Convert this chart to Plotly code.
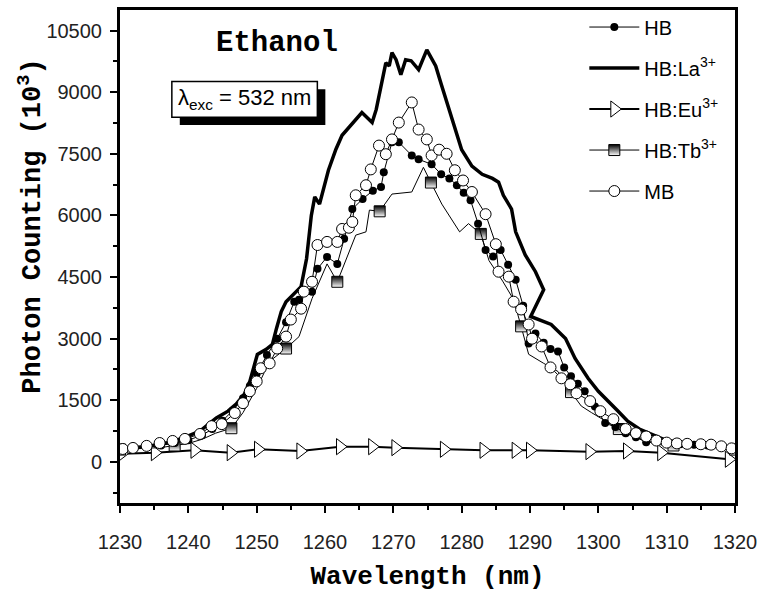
import plotly.graph_objects as go

# ---- data (wavelength nm, photon counting x10^3) ----
hb = [(1230.5, 300), (1232, 320), (1234, 360), (1236, 400), (1238, 460), (1240, 530),
      (1242, 650), (1243.5, 800), (1245, 1000), (1246.5, 1250), (1248, 1550), (1249, 1850),
      (1250, 2150), (1251.5, 2600), (1253, 3000), (1254.3, 3400), (1255.5, 3900),
      (1256.2, 3950), (1256.7, 4190), (1258.1, 4145), (1258.9, 4700), (1260.3, 4990),
      (1261.8, 4820), (1262.8, 5430), (1264, 6155), (1265.5, 6400), (1267, 6600),
      (1268.2, 6690), (1268.6, 7050), (1269.8, 7780), (1270.8, 7780), (1272.7, 7460),
      (1273.7, 7365), (1275.6, 7245), (1277, 7000), (1278.2, 6900), (1279.3, 6735),
      (1280.3, 6550), (1281.3, 6370), (1282.4, 5800), (1283.5, 5160), (1284.6, 5000),
      (1285.7, 5160), (1286.8, 4800), (1287.9, 4435), (1289, 3800), (1289.8, 2880),
      (1290.8, 3125), (1292, 2900), (1293, 2750), (1294.1, 2690), (1295, 2300),
      (1296, 2085), (1297, 1900), (1298, 1720), (1299.5, 1350), (1301, 945),
      (1302.5, 850), (1304, 700), (1305.5, 600), (1307, 480), (1308.5, 500), (1310, 450),
      (1312, 430), (1314, 420), (1316, 400), (1318, 370), (1320, 330)]

hb_la = [(1230.3, 315), (1231.9, 340), (1234.4, 390), (1236.9, 460), (1239.2, 580),
         (1241.7, 750), (1244.1, 1070), (1245.8, 1235), (1247, 1405), (1248.2, 1650),
         (1249, 1960), (1249.7, 2375), (1250.1, 2615), (1251.4, 2740), (1252.3, 2860),
         (1252.9, 3250), (1253.6, 3660), (1254.3, 3900), (1255.8, 4145), (1256.5, 4265),
         (1257.3, 4945), (1258, 6000), (1258.5, 6450), (1259.2, 6275), (1260.5, 7100),
         (1261.6, 7610), (1262.5, 7950), (1264.5, 8335), (1265.4, 8505), (1266.9, 8260),
         (1267.5, 8580), (1268.9, 9715), (1269.4, 9640), (1269.8, 9960), (1270.4, 9790),
         (1271.1, 9425), (1271.8, 9790), (1272.6, 9765), (1273.7, 9547), (1274.9, 10030),
         (1276.2, 9640), (1277, 9200), (1278.5, 8400), (1280, 7600), (1281.5, 7200),
         (1283, 7000), (1284.5, 6900), (1285.4, 6810), (1286.1, 6490), (1287.3, 6155),
         (1287.9, 5600), (1289.3, 5040), (1290.8, 4630), (1292, 4190), (1290.1, 3540),
         (1293.1, 3345), (1295.2, 3005), (1296.6, 2520), (1298.5, 2035), (1300, 1720),
         (1302.9, 1235), (1304.3, 990), (1306, 800), (1308, 650), (1310, 520),
         (1312, 460), (1314, 420), (1316, 400), (1318, 380), (1320, 330)]

hb_eu = [(1230.2, 200), (1235.1, 225), (1240.9, 283), (1246.2, 225), (1250.2, 307),
         (1256.4, 266), (1262.2, 371), (1266.9, 371), (1270.3, 347), (1277.4, 307),
         (1283.2, 283), (1287.9, 283), (1290.0, 283), (1298.7, 250), (1304.2, 266),
         (1309.2, 225), (1319.1, 65)]

hb_tb = [(1230, 300), (1232, 320), (1234, 330), (1236, 350), (1238, 400), (1240, 450),
         (1242, 550), (1244, 700), (1246.3, 820), (1248, 1200), (1250, 1790),
         (1251.9, 2450), (1254.3, 2760), (1256.2, 3050), (1258.1, 3975), (1260.3, 4820),
         (1261.8, 4385), (1264.5, 5520), (1266, 5600), (1266.5, 6130), (1268, 6100),
         (1269.8, 6520), (1272.7, 6570), (1274.4, 7170), (1275.5, 6800), (1277.1, 6275),
         (1279.7, 5600), (1281, 5800), (1282.8, 5550), (1284, 4900), (1286, 4400),
         (1287.6, 3950), (1288.7, 3300), (1289.8, 2620), (1292, 2400), (1294.1, 2200),
         (1296, 1700), (1297.5, 1360), (1299, 1200), (1301, 1000), (1303, 800),
         (1305, 650), (1307, 500), (1309, 420), (1311, 400), (1313, 380), (1315, 370),
         (1317, 350), (1320, 300)]

mb = [(1230.4, 315), (1231.9, 340), (1233.9, 390), (1235.8, 460), (1237.7, 510),
      (1239.5, 560), (1241.7, 680), (1243.4, 870), (1244.9, 920), (1246.8, 1190),
      (1248.0, 1430), (1249.0, 1720), (1250.0, 1960), (1250.6, 2280), (1251.9, 2400),
      (1253.0, 2760), (1254.3, 3050), (1255.0, 3465), (1256.5, 3730), (1256.9, 4145),
      (1258.1, 4385), (1258.9, 5280), (1260.3, 5355), (1261.8, 5355), (1262.5, 5670),
      (1263.5, 5700), (1264.0, 5840), (1264.5, 6490), (1266.0, 6735), (1266.7, 7120),
      (1267.9, 7700), (1268.9, 7490), (1269.8, 7850), (1270.8, 8260), (1272.7, 8750),
      (1273.7, 8090), (1274.9, 7850), (1275.6, 7460), (1276.7, 7600), (1277.8, 7500),
      (1279.0, 7100), (1280.2, 6850), (1281.5, 6570), (1283.5, 6030), (1285.0, 5300),
      (1285.4, 4630), (1286.9, 4510), (1287.6, 3900), (1288.7, 3710), (1289.8, 3345),
      (1290.3, 3000), (1291.7, 2810), (1293.0, 2300), (1294.6, 2035), (1295.9, 1890),
      (1296.8, 1670), (1298.8, 1480), (1300.3, 1235), (1302.2, 1040), (1304.0, 800),
      (1305.5, 700), (1307.0, 620), (1308.5, 520), (1310.0, 470), (1311.5, 450),
      (1313.0, 440), (1315.0, 430), (1316.5, 420), (1318.0, 380), (1319.5, 330)]

y_ticks = [0, 1500, 3000, 4500, 6000, 7500, 9000, 10500]
y_tick_labels = ["0", "1500", "3000", "4500", "6000", "7500", "9000", "10500"]
x_ticks = [1230, 1240, 1250, 1260, 1270, 1280, 1290, 1300, 1310, 1320]


def xs(d):
    return [p[0] for p in d]


def ys(d):
    return [p[1] for p in d]


SANS = "Liberation Sans, Arial, sans-serif"
MONO = "Liberation Mono, Courier New, monospace"

fig = go.Figure()

fig.add_trace(go.Scatter(
    x=xs(hb_la), y=ys(hb_la), mode="lines", name="HB:La<sup>3+</sup>",
    line=dict(color="black", width=3.5), legendrank=2, legendgroup="la"))

fig.add_trace(go.Scatter(
    x=xs(hb_eu), y=ys(hb_eu), mode="lines+markers", name="HB:Eu<sup>3+</sup>",
    line=dict(color="black", width=2),
    marker=dict(symbol="triangle-right", size=14, color="white",
                line=dict(color="black", width=1)),
    legendrank=3, legendgroup="eu"))

fig.add_trace(go.Scatter(
    x=xs(hb_tb), y=ys(hb_tb), mode="lines+markers", name="HB:Tb<sup>3+</sup>",
    line=dict(color="black", width=1),
    marker=dict(symbol="square", size=11, color="black", maxdisplayed=13,
                gradient=dict(type="vertical", color="white"),
                line=dict(color="black", width=1)),
    legendrank=4, legendgroup="tb"))

fig.add_trace(go.Scatter(
    x=xs(hb), y=ys(hb), mode="lines+markers", name="HB",
    line=dict(color="black", width=1),
    marker=dict(symbol="circle", size=8, color="black"),
    legendrank=1, legendgroup="hb"))

fig.add_trace(go.Scatter(
    x=xs(mb), y=ys(mb), mode="lines+markers", name="MB",
    line=dict(color="black", width=1),
    marker=dict(symbol="circle", size=11, color="white",
                line=dict(color="black", width=1)),
    legendrank=5, legendgroup="mb"))

axis_common = dict(
    showline=True, linecolor="black", linewidth=3, mirror=True,
    ticks="outside", ticklen=7, tickwidth=2, tickcolor="black",
    showgrid=False, zeroline=False,
    tickfont=dict(family=SANS, size=20, color="#222"),
)

fig.update_xaxes(
    range=[1230, 1320], tickvals=x_ticks, ticklabelstandoff=12,
    minor=dict(ticks="outside", dtick=5, tick0=1230, ticklen=4, tickwidth=2, tickcolor="black"),
    title=dict(text="<b>Wavelength (nm)</b>", font=dict(family=MONO, size=26, color="black"),
               standoff=14),
    **axis_common)

fig.update_yaxes(
    range=[-1000, 11000], tickvals=y_ticks, ticktext=y_tick_labels, ticklabelstandoff=4,
    minor=dict(ticks="outside", dtick=750, tick0=0, ticklen=4, tickwidth=2, tickcolor="black"),
    **axis_common)

# y-axis title placed as rotated text
fig.add_annotation(xref="paper", yref="paper", x=-0.146, y=0.561,
                   xanchor="center", yanchor="middle", textangle=-90,
                   text="<b>Photon Counting (10<sup>3</sup>)</b>", showarrow=False,
                   font=dict(family=MONO, size=27, color="black"))

# lambda box with drop shadow
fig.add_shape(type="rect", xref="paper", yref="paper",
              x0=0.0972, x1=0.3339, y0=0.7666, y1=0.8390,
              fillcolor="black", line=dict(width=0), layer="above")
fig.add_shape(type="rect", xref="paper", yref="paper",
              x0=0.0843, x1=0.3209, y0=0.7827, y1=0.8551,
              fillcolor="white", line=dict(color="black", width=1.5), layer="above")

fig.add_annotation(xref="paper", yref="paper", x=0.2026, y=0.819,
                   xanchor="center", yanchor="middle",
                   text="λ<sub>exc</sub> = 532 nm", showarrow=False,
                   font=dict(family=SANS, size=22, color="black"))

fig.add_annotation(xref="paper", yref="paper", x=0.256, y=0.9316,
                   xanchor="center", yanchor="middle",
                   text="<b>Ethanol</b>", showarrow=False,
                   font=dict(family=MONO, size=29, color="black"))

fig.update_layout(
    width=764, height=592,
    margin=dict(l=120, r=27, t=7, b=88),
    paper_bgcolor="white", plot_bgcolor="white",
    showlegend=True,
    legend=dict(x=0.755, y=1.005, xanchor="left", yanchor="top",
                bgcolor="rgba(0,0,0,0)", borderwidth=0, itemwidth=50,
                font=dict(family=SANS, size=20, color="black"),
                tracegroupgap=12),
)

fig.write_html("out.html")
